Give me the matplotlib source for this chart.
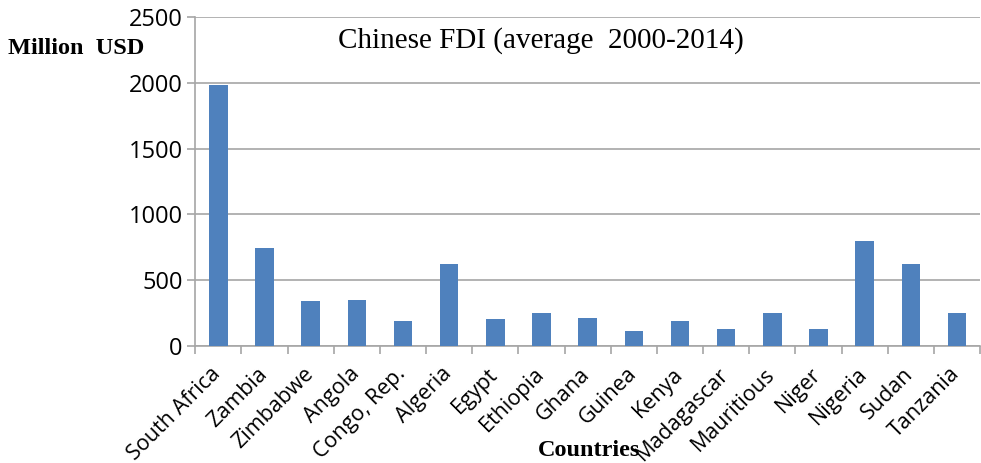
import matplotlib
matplotlib.use("Agg")
import matplotlib.pyplot as plt
import matplotlib.transforms as mtrans
import numpy as np

countries = ["South Africa", "Zambia", "Zimbabwe", "Angola", "Congo, Rep.", "Algeria",
             "Egypt", "Ethiopia", "Ghana", "Guinea", "Kenya", "Madagascar",
             "Mauritious", "Niger", "Nigeria", "Sudan", "Tanzania"]
fdi = [1985, 743, 342, 352, 188, 626, 208, 249, 212, 112, 188, 129, 249, 129, 797, 624, 249]
yticks = [0, 500, 1000, 1500, 2000, 2500]

fig = plt.figure(figsize=(9.81, 4.63), dpi=100)
ax = fig.add_axes([0.199, 0.253, 0.800, 0.710])
x = np.arange(len(countries))
ax.bar(x, fdi, width=0.4, color="#4F81BD", zorder=3)
ax.set_xlim(-0.5, len(countries) - 0.5)
ax.set_ylim(0, 2500)
ax.set_yticks(yticks)
ax.grid(axis="y", color="#A6A6A6", linewidth=1.2, zorder=0)
for s in ["top", "right"]:
    ax.spines[s].set_visible(False)
ax.spines["left"].set_color("#A6A6A6")
ax.spines["bottom"].set_color("#A6A6A6")
ax.spines["left"].set_linewidth(1.2)
ax.spines["bottom"].set_linewidth(1.2)

tickfont = "Open Sans"
ax.set_yticklabels([str(v) for v in yticks], fontsize=17, family=tickfont)
ax.tick_params(axis="y", length=6, color="#A6A6A6", width=1.2, pad=3)
ax.set_xticks(x)
ax.set_xticklabels(countries, rotation=45, ha="right", rotation_mode="anchor",
                   fontsize=15.5, family=tickfont)
ax.tick_params(axis="x", length=0, pad=12)
ax.set_xticks(np.arange(len(countries) + 1) - 0.5, minor=True)
ax.tick_params(axis="x", which="minor", length=6, color="#A6A6A6", width=1.2)
offset = mtrans.ScaledTranslation(-8 / 100, -1 / 100, fig.dpi_scale_trans)
for lab in ax.get_xticklabels():
    lab.set_transform(lab.get_transform() + offset)

ax.text(0.44, 0.93, "Chinese FDI (average  2000-2014)", transform=ax.transAxes,
        fontsize=21, family="Liberation Serif", ha="center", va="center")
fig.text(0.008, 0.896, "Million  USD", fontsize=17.5, family="Liberation Serif",
         fontweight="bold", ha="left", va="center")
fig.text(0.6, 0.028, "Countries", fontsize=17.5, family="Liberation Serif",
         fontweight="bold", ha="center", va="center")

fig.savefig("out.png", dpi=100)
